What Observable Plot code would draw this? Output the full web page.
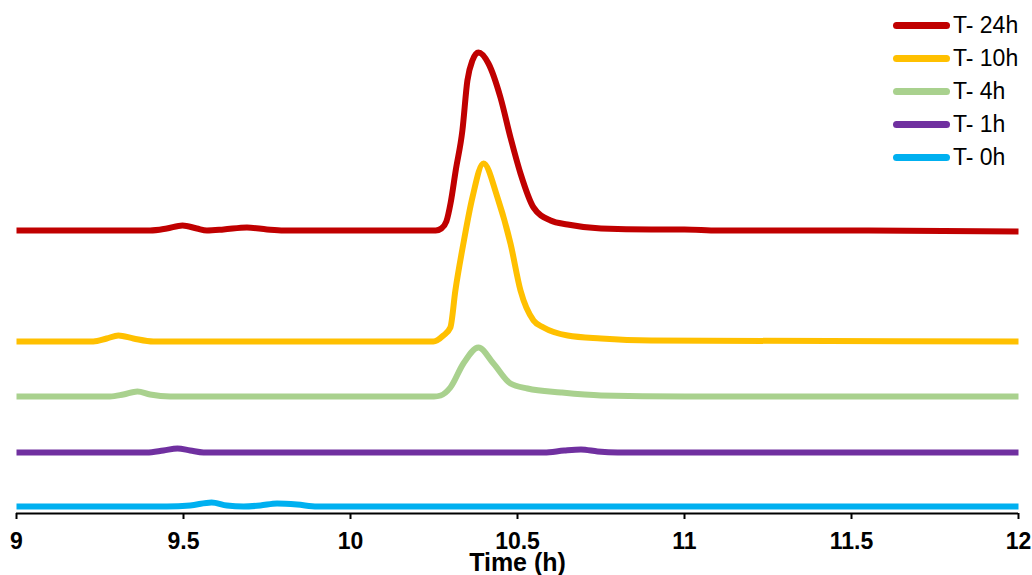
<!DOCTYPE html>
<html>
<head>
<meta charset="utf-8">
<script src="https://cdn.jsdelivr.net/npm/d3@7"></script>
<script src="https://cdn.jsdelivr.net/npm/@observablehq/plot@0.6"></script>
<style>
  html, body { margin: 0; padding: 0; background: #fff; }
  #wrap { position: relative; width: 1032px; height: 575px; font-family: "Liberation Sans", Arial, sans-serif; }
  #legend { position: absolute; left: 893px; top: 9px; }
  .row { display: flex; align-items: center; height: 33px; }
  .sw { width: 57px; height: 7px; border-radius: 3.5px; margin-right: 3px; }
  .lab { font-size: 23px; color: #000; line-height: 33px; white-space: nowrap; }
  #wrap svg text { font-weight: bold !important; }
  #wrap svg [aria-label="x-axis label"] text { font-size: 25px; }
</style>
</head>
<body>
<div id="wrap"></div>
<script>
// Series names (legend order) and colours
const seriesNames = ["T- 24h", "T- 10h", "T- 4h", "T- 1h", "T- 0h"];
const seriesColors = ["#C00000", "#FFC000", "#A9D18E", "#7030A0", "#00B0F0"];
// vertical offset of each trace (stacked chromatograms)
const offsets = [283, 172, 117, 61, 7];

// X ticks
const xTicks = [9, 9.5, 10, 10.5, 11, 11.5, 12];

// T- 24h
const t24 = [9.0, 9.40, 9.45, 9.497, 9.54, 9.57, 9.62, 9.69, 9.75, 9.80, 10.0, 10.255, 10.272, 10.287, 10.3, 10.315, 10.335, 10.35, 10.365, 10.383, 10.413, 10.449, 10.479, 10.509, 10.548, 10.599, 10.65, 10.75, 10.9, 11.0, 11.1, 11.5, 12.0];
const v24 = [0, 0, 2, 5, 2, 0, 1, 3, 1, 0, 0, 0, 2, 9, 28, 60, 100, 150, 170, 178, 167, 133, 93, 57, 23, 10, 6, 2, 1, 1, 0, 0, -1];
// T- 10h
const t10 = [9.0, 9.23, 9.27, 9.305, 9.35, 9.41, 10.0, 10.248, 10.278, 10.299, 10.314, 10.338, 10.365, 10.398, 10.44, 10.479, 10.509, 10.548, 10.578, 10.65, 10.75, 10.9, 12.0];
const v10 = [0, 0, 3, 6, 3, 0, 0, 0, 6, 14, 51, 98, 144, 178, 144, 98, 51, 21, 14, 6, 3, 1, 0];
// T- 4h
const t4 = [9.0, 9.28, 9.32, 9.362, 9.40, 9.46, 10.0, 10.25, 10.27, 10.299, 10.338, 10.383, 10.428, 10.479, 10.53, 10.63, 10.75, 11.0, 12.0];
const v4 = [0, 0, 2, 5, 2, 0, 0, 0, 1, 9, 33, 49, 33, 13, 8, 4, 1, 0, 0];
// T- 1h
const t1 = [9.0, 9.39, 9.44, 9.482, 9.52, 9.56, 10.0, 10.58, 10.64, 10.69, 10.74, 10.80, 12.0];
const v1 = [0, 0, 2, 4, 2, 0, 0, 0, 2, 3, 1, 0, 0];
// T- 0h
const t0 = [9.0, 9.45, 9.52, 9.584, 9.63, 9.68, 9.73, 9.78, 9.84, 9.90, 12.0];
const v0 = [0, 0, 1, 4, 1, 0, 1, 3, 2, 0, 0];

const times = [t24, t10, t4, t1, t0];
const values = [v24, v10, v4, v1, v0];

const rows = [];
seriesNames.forEach((name, i) => {
  times[i].forEach((t, j) => rows.push({series: name, time: t, signal: values[i][j] + offsets[i]}));
});

const chart = Plot.plot({
  width: 1032,
  height: 575,
  marginLeft: 16,
  marginRight: 14,
  marginTop: 13,
  marginBottom: 62,
  style: {fontFamily: '"Liberation Sans", Arial, sans-serif', background: "#fff", color: "#000"},
  x: {domain: [9, 12]},
  y: {domain: [0, 500], axis: null},
  color: {domain: seriesNames, range: seriesColors},
  marks: [
    Plot.ruleY([0], {stroke: "#000", strokeWidth: 2}),
    Plot.line(rows.slice().reverse(), {x: "time", y: "signal", stroke: "series", z: "series", strokeWidth: 6, curve: "monotone-x", strokeLinecap: "butt"}),
    Plot.axisX({ticks: xTicks, tickFormat: d => String(d), tickSize: 6, tickPadding: 13, strokeWidth: 2, fontSize: 23, fontWeight: "bold", label: "Time (h)", labelAnchor: "center", labelOffset: 57, labelArrow: "none"})
  ]
});

const wrap = document.getElementById("wrap");
wrap.appendChild(chart);

const legend = document.createElement("div");
legend.id = "legend";
seriesNames.forEach((name, i) => {
  const row = document.createElement("div");
  row.className = "row";
  const sw = document.createElement("div");
  sw.className = "sw";
  sw.style.background = seriesColors[i];
  const lab = document.createElement("span");
  lab.className = "lab";
  lab.textContent = name;
  row.appendChild(sw);
  row.appendChild(lab);
  legend.appendChild(row);
});
wrap.appendChild(legend);
</script>
</body>
</html>
